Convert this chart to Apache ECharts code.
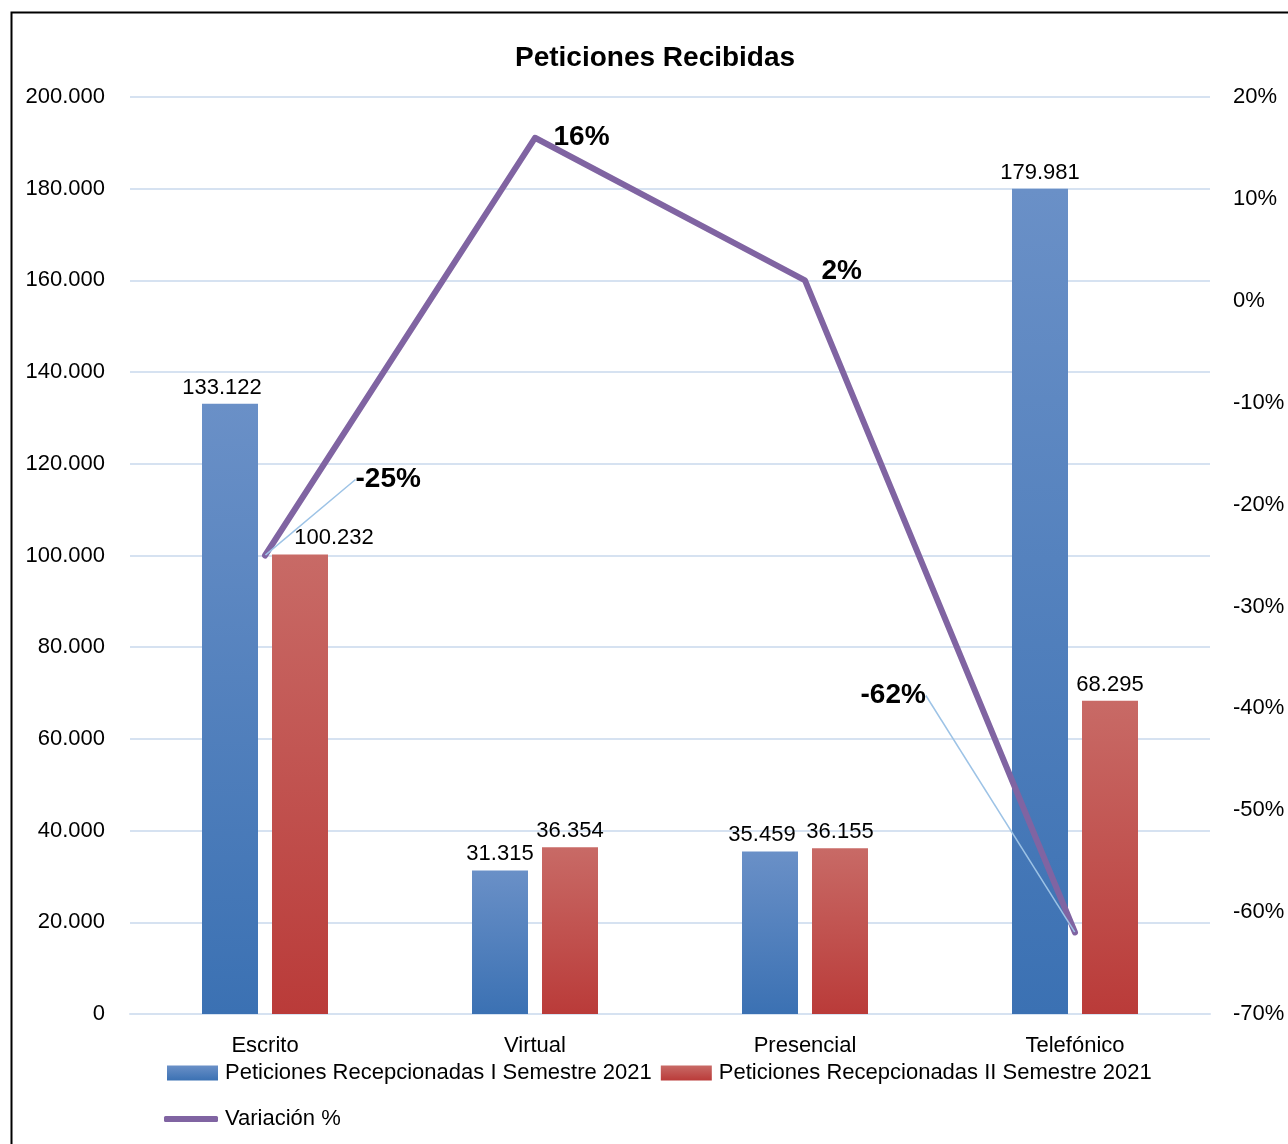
<!DOCTYPE html>
<html>
<head>
<meta charset="utf-8">
<style>
  html, body { margin: 0; padding: 0; background: #fff; }
  #chart { width: 1288px; height: 1144px; }
</style>
<script src="https://cdn.jsdelivr.net/npm/echarts@6/dist/echarts.min.js"></script>
</head>
<body>
<div id="chart"></div>
<script>
var categories = ["Escrito", "Virtual", "Presencial", "Telefónico"];
var semestre1 = [133122, 31315, 35459, 179981];
var semestre2 = [100232, 36354, 36155, 68295];
var variacion = [-25, 16, 2, -62];
var leftTicks = [0, 200000, 20000];   // min, max, interval
var rightTicks = [-70, 20, 10];

var font = "'Liberation Sans Narrow', 'Arial Narrow', 'Liberation Sans', Arial, sans-serif";

// 格式化千位分隔符 (punto)
function miles(v) {
  return String(v).replace(/\B(?=(\d{3})+(?!\d))/g, ".");
}

function grad(top, bottom) {
  return new echarts.graphic.LinearGradient(0, 0, 0, 1, [
    { offset: 0, color: top },
    { offset: 1, color: bottom }
  ]);
}

var blue = grad("#6a90c7", "#3b71b3");
var red = grad("#c86a66", "#ba3b39");

// 数据标签的水平微调 (como en el original)
var shift1 = [-8, 0, -8, 0];
var shift2 = [34, 0, 0, 0];

// 折线标签偏移
var labelOffsets = [
  { dx: 68, dy: -76 },
  { dx: -4, dy: 0 },
  { dx: -6, dy: -9 },
  { dx: -237, dy: -237 }
];

function barData(values, shifts) {
  return values.map(function (v, i) {
    return { value: v, label: { offset: [shifts[i], 0] } };
  });
}

var lineData = variacion.map(function (v, i) {
  return { value: v, labelLine: { show: i === 0 || i === 3 } };
});

var barLabel = {
  show: true,
  position: "top",
  distance: 5,
  fontFamily: font,
  fontSize: 22,
  color: "#000",
  formatter: function (p) { return miles(p.value); }
};

var myChart = echarts.init(document.getElementById("chart"));
var option = {
  animation: false,
  textStyle: { fontFamily: font },
  title: {
    text: "Peticiones Recibidas",
    left: 510,
    top: 39,
    textStyle: { fontFamily: font, fontSize: 28, fontWeight: "bold", color: "#000" }
  },
  graphic: [
    {
      type: "rect",
      shape: { x: 11.5, y: 12.5, width: 1290, height: 1140 },
      style: { fill: "none", stroke: "#000", lineWidth: 2 },
      silent: true
    }
  ],
  grid: { left: 130, right: 78, top: 97, bottom: 130 },
  legend: [
    {
      left: 162,
      top: 1057,
      icon: "rect",
      itemWidth: 51,
      itemHeight: 15,
      itemGap: 9,
      textStyle: { fontFamily: font, fontSize: 22, color: "#000", padding: [0, 0, 0, 2] },
      data: ["Peticiones Recepcionadas I Semestre 2021", "Peticiones Recepcionadas II Semestre 2021"]
    },
    {
      left: 159,
      top: 1103,
      icon: "roundRect",
      itemWidth: 54,
      itemHeight: 6,
      textStyle: { fontFamily: font, fontSize: 22, color: "#000", padding: [0, 0, 0, 2] },
      data: ["Variación %"]
    }
  ],
  xAxis: {
    type: "category",
    data: categories,
    axisLine: { show: true, lineStyle: { color: "#d6e2f1", width: 2 } },
    axisTick: { show: false },
    axisLabel: { fontFamily: font, fontSize: 22, color: "#000", margin: 21 }
  },
  yAxis: [
    {
      type: "value",
      min: leftTicks[0],
      max: leftTicks[1],
      interval: leftTicks[2],
      axisLine: { show: false },
      axisTick: { show: false },
      splitLine: { lineStyle: { color: "#d6e2f1", width: 2 } },
      axisLabel: { fontFamily: font, fontSize: 22, color: "#000", margin: 25, formatter: miles }
    },
    {
      type: "value",
      min: rightTicks[0],
      max: rightTicks[1],
      interval: rightTicks[2],
      axisLine: { show: false },
      axisTick: { show: false },
      splitLine: { show: false },
      axisLabel: { fontFamily: font, fontSize: 22, color: "#000", margin: 23, formatter: "{value}%" }
    }
  ],
  series: [
    {
      name: "Peticiones Recepcionadas I Semestre 2021",
      type: "bar",
      data: barData(semestre1, shift1),
      barWidth: 56,
      barGap: "25%",
      itemStyle: { color: blue },
      label: barLabel
    },
    {
      name: "Peticiones Recepcionadas II Semestre 2021",
      type: "bar",
      data: barData(semestre2, shift2),
      barWidth: 56,
      itemStyle: { color: red },
      label: barLabel
    },
    {
      name: "Variación %",
      type: "line",
      yAxisIndex: 1,
      data: lineData,
      symbol: "circle",
      symbolSize: 1,
      showSymbol: true,
      lineStyle: { color: "#8064a2", width: 6, cap: "round", join: "round" },
      itemStyle: { color: "#8064a2" },
      label: {
        show: true,
        position: "right",
        distance: 22,
        fontFamily: font,
        fontSize: 28,
        fontWeight: "bold",
        color: "#000",
        formatter: "{c}%"
      },
      labelLine: {
        show: true,
        lineStyle: { color: "#9dc3e6", width: 1.5 }
      },
      labelLayout: function (params) {
        var o = labelOffsets[params.dataIndex];
        return { dx: o.dx, dy: o.dy };
      }
    }
  ]
};
myChart.setOption(option);
</script>
</body>
</html>
